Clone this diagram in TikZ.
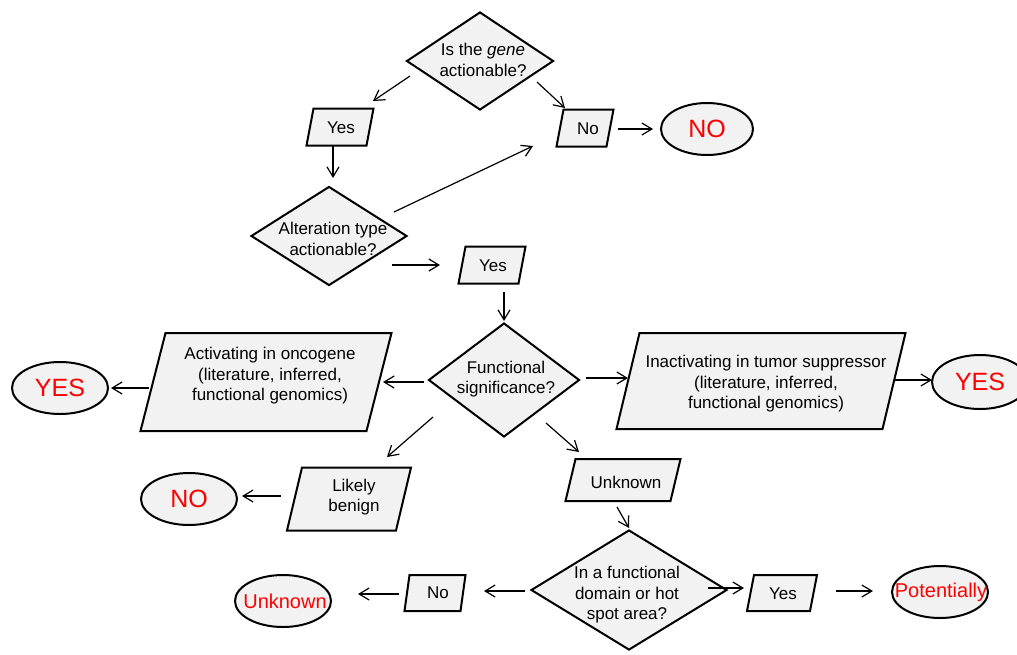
\documentclass[tikz,border=0pt]{standalone}
\usepackage{fontspec}
\setmainfont{Liberation Sans}
\usetikzlibrary{shapes.geometric,arrows.meta}
\definecolor{boxfill}{HTML}{F2F2F2}
\definecolor{redtxt}{RGB}{255,0,0}
\tikzset{
  shp/.style={draw=black,line width=2pt,fill=boxfill,inner sep=0pt,line join=miter},
  dia/.style={shp,diamond},
  oval/.style={shp,ellipse},
  ghost/.style={inner sep=0pt,outer sep=0pt,rectangle},
  txt/.style={align=center,inner sep=0pt,font=\fontsize{17}{20.5}\selectfont},
  redbig/.style={inner sep=0pt,text=redtxt,font=\fontsize{25}{28}\selectfont},
  redmid/.style={inner sep=0pt,text=redtxt,font=\fontsize{20}{24}\selectfont},
  arr/.style={-{Straight Barb[length=10pt,width=12pt,line width=1.2pt]},line width=1.2pt}
}
% name, x, y, width, height, slant
\newcommand\myparal[6]{%
  \node[ghost,minimum width=#4,minimum height=#5] (#1) at (#2,#3) {};
  \draw[shp] ([xshift=#6pt]#1.north west) -- (#1.north east) -- ([xshift=-#6pt]#1.south east) -- (#1.south west) -- cycle;
}
\begin{document}
\begin{tikzpicture}[x=1pt,y=-1pt]
\useasboundingbox (0,0) rectangle (1017,654);
\clip (0,0) rectangle (1017,654);
% diamonds
\node[dia,minimum width=147,minimum height=98] (d1) at (480,61) {};
\node[dia,minimum width=156,minimum height=99] (d2) at (329,236) {};
\node[dia,minimum width=151,minimum height=114] (d3) at (504,380) {};
\node[dia,minimum width=196,minimum height=120] (d4) at (629,590) {};
% parallelograms
\myparal{yes1}{340}{127}{67}{37}{7}
\myparal{no1}{585}{128}{57}{37}{7}
\myparal{yes2}{492}{265}{67}{37}{7}
\myparal{act}{266}{382}{251}{98}{25}
\myparal{inact}{761}{381}{289}{96}{23}
\myparal{likely}{349}{499}{124}{63}{15}
\myparal{unkbox}{623}{480}{115}{42}{10}
\myparal{no2}{435}{593}{61}{36}{5}
\myparal{yes3}{782}{593}{70}{36}{7}
% ellipses
\node[oval,minimum width=92,minimum height=52] (NO1) at (707,129) {};
\node[oval,minimum width=96,minimum height=52] (YESL) at (60,388) {};
\node[oval,minimum width=96,minimum height=54] (YESR) at (980,382) {};
\node[oval,minimum width=96,minimum height=52] (NO2) at (189,499) {};
\node[oval,minimum width=96,minimum height=52] (unkE) at (283,601) {};
\node[oval,minimum width=96,minimum height=52] (pot) at (940,592) {};
% texts
\node[txt] (d1t) at (483,60) {Is the \textit{gene}\\actionable?};
\node[txt] (d2t) at (333,239) {Alteration type\\actionable?};
\node[txt] (d3t) at (506,379) {Functional\\significance?};
\node[txt] (d4t) at (627,595) {In a functional\\domain or hot\\spot area?};
\node[txt] (yes1t) at (341,128) {Yes};
\node[txt] (no1t) at (588,129) {No};
\node[txt] (yes2t) at (493,266) {Yes};
\node[txt] (actt) at (270,376) {Activating in oncogene\\(literature, inferred,\\functional genomics)};
\node[txt] (inactt) at (766,384) {Inactivating in tumor suppressor\\(literature, inferred,\\functional genomics)};
\node[txt] (likelyt) at (354,497) {Likely\\benign};
\node[txt] (unkboxt) at (626,482) {Unknown};
\node[txt] (no2t) at (438,593) {No};
\node[txt] (yes3t) at (783,594) {Yes};
\node[redbig] (NO1t) at (707,129) {NO};
\node[redbig] (YESLt) at (60,388) {YES};
\node[redbig] (YESRt) at (980,382) {YES};
\node[redbig] (NO2t) at (189,499) {NO};
\node[redmid] (unkEt) at (285,601) {Unknown};
\node[redmid] (pott) at (941,592) {Potentially};
% connectors
\draw[arr] ([shift={(-70,15)}]d1.center) -- ([shift={(33,-26)}]yes1.center);
\draw[arr] ([shift={(57,21)}]d1.center) -- ([shift={(-20,-20)}]no1.center);
\draw[arr] ([shift={(-7,19)}]yes1.center) -- ([shift={(4,-58)}]d2.center);
\draw[arr] ([shift={(65,-24)}]d2.center) -- ([shift={(-52,18)}]no1.center);
\draw[arr] ([shift={(63,29)}]d2.center) -- ([shift={(-52,0)}]yes2.center);
\draw[arr] ([shift={(33,1)}]no1.center) -- ([shift={(-54,0)}]NO1.center);
\draw[arr] ([shift={(12,27)}]yes2.center) -- ([shift={(0,-59)}]d3.center);
\draw[arr] ([shift={(-80,2)}]d3.center) -- ([shift={(117,0)}]act.center);
\draw[arr] ([shift={(-117,6)}]act.center) -- ([shift={(51,0)}]YESL.center);
\draw[arr] ([shift={(82,-2)}]d3.center) -- ([shift={(-133,-3)}]inact.center);
\draw[arr] ([shift={(133,-1)}]inact.center) -- ([shift={(-48,-2)}]YESR.center);
\draw[arr] ([shift={(-71,37)}]d3.center) -- ([shift={(38,-42)}]likely.center);
\draw[arr] ([shift={(-68,-3)}]likely.center) -- ([shift={(53,-3)}]NO2.center);
\draw[arr] ([shift={(42,43)}]d3.center) -- ([shift={(-44,-28)}]unkbox.center);
\draw[arr] ([shift={(-6,27)}]unkbox.center) -- ([shift={(0,-62)}]d4.center);
\draw[arr] ([shift={(-104,1)}]d4.center) -- ([shift={(49,-2)}]no2.center);
\draw[arr] ([shift={(-36,1)}]no2.center) -- ([shift={(75,-7)}]unkE.center);
\draw[arr] ([shift={(79,-2)}]d4.center) -- ([shift={(-38,-5)}]yes3.center);
\draw[arr] ([shift={(54,-2)}]yes3.center) -- ([shift={(-67,-1)}]pot.center);
\end{tikzpicture}
\end{document}
